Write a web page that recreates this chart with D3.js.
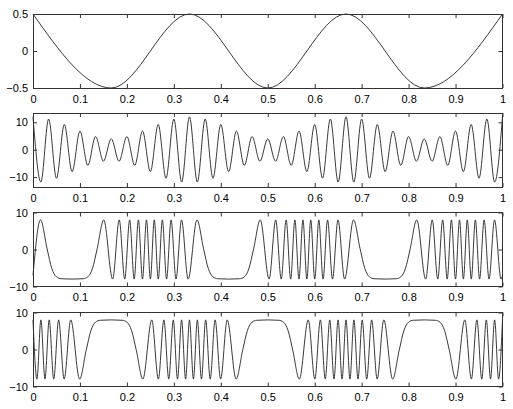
<!DOCTYPE html>
<html lang="en">
<head>
<meta charset="UTF-8">
<title>modulation</title>
<script src="https://d3js.org/d3.v7.min.js"></script>
<style>
    body { margin: 0; background: #fff; }
    svg text {
        font-family: Helvetica, "Liberation Sans", Arial, sans-serif;
        font-size: 11px;
        fill: #000;
    }
</style>
</head>
<body>
<script>

// shared x ticks
let xTicks = [0, 0.1, 0.2, 0.3, 0.4, 0.5, 0.6, 0.7, 0.8, 0.9, 1];

// panel 1 - message (extrema)
let msgT = [0, 0.1667, 0.3333, 0.5, 0.6667, 0.8333, 1];
let msgY = [0.5, -0.5, 0.5, -0.5, 0.5, -0.5, 0.5];
let msgTicks = [-0.5, 0, 0.5];

// panel 2 - carrier with varying amplitude (peaks / troughs)
let amT = [0, 0.0167, 0.0333, 0.05, 0.0667, 0.0833, 0.1, 0.1167, 0.1333, 0.15,
    0.1667, 0.1833, 0.2, 0.2167, 0.2333, 0.25, 0.2667, 0.2833, 0.3, 0.3167,
    0.3333, 0.35, 0.3667, 0.3833, 0.4, 0.4167, 0.4333, 0.45, 0.4667, 0.4833,
    0.5, 0.5167, 0.5333, 0.55, 0.5667, 0.5833, 0.6, 0.6167, 0.6333, 0.65,
    0.6667, 0.6833, 0.7, 0.7167, 0.7333, 0.75, 0.7667, 0.7833, 0.8, 0.8167,
    0.8333, 0.85, 0.8667, 0.8833, 0.9, 0.9167, 0.9333, 0.95, 0.9667, 0.9833, 1];
let amY = [12, -11.8, 11.2, -10.4, 9.2, -8, 6.8, -5.7, 4.8, -4.2,
    4, -4.2, 4.8, -5.7, 6.8, -8, 9.2, -10.4, 11.2, -11.8,
    12, -11.8, 11.2, -10.4, 9.2, -8, 6.8, -5.7, 4.8, -4.2,
    4, -4.2, 4.8, -5.7, 6.8, -8, 9.2, -10.4, 11.2, -11.8,
    12, -11.8, 11.2, -10.4, 9.2, -8, 6.8, -5.7, 4.8, -4.2,
    4, -4.2, 4.8, -5.7, 6.8, -8, 9.2, -10.4, 11.2, -11.8, 12];
let amTicks = [-10, 0, 10];

// panel 3 - phase modulated
let pmT = [0, 0.016, 0.03, 0.04, 0.05, 0.06, 0.0833, 0.1067, 0.1167, 0.1267, 0.1367,
    0.1507, 0.1696, 0.1837, 0.1954, 0.2059, 0.2155, 0.2245, 0.2332, 0.2417, 0.25,
    0.2583, 0.2668, 0.2755, 0.2845, 0.2941, 0.3046, 0.3163, 0.3304,
    0.3493, 0.3633, 0.3733, 0.3833, 0.3933, 0.4167, 0.44, 0.45, 0.46, 0.47,
    0.484, 0.5029, 0.517, 0.5287, 0.5392, 0.5488, 0.5578, 0.5665, 0.575, 0.5833,
    0.5916, 0.6001, 0.6088, 0.6178, 0.6274, 0.6379, 0.6496, 0.6637,
    0.6827, 0.6967, 0.7067, 0.7167, 0.7267, 0.75, 0.7734, 0.7834, 0.7934, 0.8034,
    0.8174, 0.8363, 0.8504, 0.8621, 0.8726, 0.8822, 0.8912, 0.8999, 0.9084, 0.9167,
    0.925, 0.9335, 0.9422, 0.9512, 0.9608, 0.9713, 0.983, 0.997, 1];
let pmY = [-7, 8, 0.2, -5.1, -7.4, -7.9, -8, -7.9, -7.4, -5.1, 0.2,
    8, -8, 8, -8, 8, -8, 8, -8, 8, -8,
    8, -8, 8, -8, 8, -8, 8, -8,
    8, 0.2, -5.1, -7.4, -7.9, -8, -7.9, -7.4, -5.1, 0.2,
    8, -8, 8, -8, 8, -8, 8, -8, 8, -8,
    8, -8, 8, -8, 8, -8, 8, -8,
    8, 0.2, -5.1, -7.4, -7.9, -8, -7.9, -7.4, -5.1, 0.2,
    8, -8, 8, -8, 8, -8, 8, -8, 8, -8,
    8, -8, 8, -8, 8, -8, 8, -8, -7];

// panel 4 - frequency modulated
let fmT = [0, 0.0084, 0.0168, 0.0255, 0.0345, 0.0441, 0.0546, 0.0663, 0.0804, 0.0993,
    0.1133, 0.1233, 0.1333, 0.1433, 0.1667, 0.19, 0.2, 0.21, 0.22,
    0.234, 0.253, 0.267, 0.2788, 0.2892, 0.2988, 0.3078, 0.3165, 0.325,
    0.3333, 0.3417, 0.3501, 0.3588, 0.3678, 0.3774, 0.3879, 0.3996, 0.4137, 0.4326,
    0.4466, 0.4566, 0.4666, 0.4766, 0.5, 0.5233, 0.5333, 0.5433, 0.5533,
    0.5673, 0.5863, 0.6003, 0.6121, 0.6225, 0.6321, 0.6411, 0.6498, 0.6583,
    0.6667, 0.6751, 0.6835, 0.6922, 0.7012, 0.7108, 0.7213, 0.733, 0.7471, 0.766,
    0.78, 0.79, 0.8, 0.81, 0.8333, 0.8567, 0.8667, 0.8767, 0.8867,
    0.9007, 0.9197, 0.9337, 0.9455, 0.9559, 0.9655, 0.9745, 0.9832, 0.9917, 1];
let fmY = [8, -8, 8, -8, 8, -8, 8, -8, 8, -8,
    -0.2, 5.1, 7.4, 7.9, 8, 7.9, 7.4, 5.1, -0.2,
    -8, 8, -8, 8, -8, 8, -8, 8, -8,
    8, -8, 8, -8, 8, -8, 8, -8, 8, -8,
    -0.2, 5.1, 7.4, 7.9, 8, 7.9, 7.4, 5.1, -0.2,
    -8, 8, -8, 8, -8, 8, -8, 8, -8,
    8, -8, 8, -8, 8, -8, 8, -8, 8, -8,
    -0.2, 5.1, 7.4, 7.9, 8, 7.9, 7.4, 5.1, -0.2,
    -8, 8, -8, 8, -8, 8, -8, 8, -8, 8];
let sigTicks = [-10, 0, 10];

let width = 513;
let height = 409;
let left = 33;
let right = 502.5;
let panelHeight = 74;
let axisColor = "#333";
let lineColor = "#222";

let panels = [
    {t: msgT, y: msgY, top: 14, domain: [-0.5, 0.5], ticks: msgTicks},
    {t: amT, y: amY, top: 113, domain: [-13.6, 13.4], ticks: amTicks},
    {t: pmT, y: pmY, top: 212.5, domain: [-10, 10], ticks: sigTicks},
    {t: fmT, y: fmY, top: 312.5, domain: [-10, 10], ticks: sigTicks}
];

let svg = d3.select("body").append("svg")
    .attr("width", width)
    .attr("height", height);

svg.append("rect")
    .attr("width", "100%")
    .attr("height", "100%")
    .attr("fill", "#fff");

let x = d3.scaleLinear().domain([0, 1]).range([left, right]);
let fmt = d3.format("~g");

panels.forEach(function (p) {
    let y = d3.scaleLinear().domain(p.domain).range([p.top + panelHeight, p.top]);
    let g = svg.append("g");

    // the signal
    let line = d3.line()
        .x(d => x(d[0]))
        .y(d => y(d[1]))
        .curve(d3.curveMonotoneX);

    g.append("path")
        .datum(d3.zip(p.t, p.y))
        .attr("fill", "none")
        .attr("stroke", lineColor)
        .attr("stroke-width", 0.9)
        .attr("d", line);

    // inward ticks on all four sides, labels left and bottom only
    let bottom = g.append("g")
        .attr("transform", "translate(0," + (p.top + panelHeight) + ")")
        .call(d3.axisBottom(x).tickValues(xTicks).tickSize(-4).tickPadding(7).tickFormat(fmt));
    let top = g.append("g")
        .attr("transform", "translate(0," + p.top + ")")
        .call(d3.axisTop(x).tickValues(xTicks).tickSize(-4).tickFormat(""));
    let leftAx = g.append("g")
        .attr("transform", "translate(" + left + ",0)")
        .call(d3.axisLeft(y).tickValues(p.ticks).tickSize(-4).tickPadding(5).tickFormat(fmt));
    let rightAx = g.append("g")
        .attr("transform", "translate(" + right + ",0)")
        .call(d3.axisRight(y).tickValues(p.ticks).tickSize(-4).tickFormat(""));

    [bottom, top, leftAx, rightAx].forEach(function (a) {
        a.select(".domain").remove();
        a.selectAll("line").attr("stroke", axisColor);
        a.selectAll("text")
            .attr("fill", "#000")
            .style("font-size", "11px")
            .style("font-family", "Helvetica, 'Liberation Sans', Arial, sans-serif");
    });

    g.append("rect")
        .attr("x", left)
        .attr("y", p.top)
        .attr("width", right - left)
        .attr("height", panelHeight)
        .attr("fill", "none")
        .attr("stroke", axisColor)
        .attr("stroke-width", 1)
        .attr("shape-rendering", "crispEdges");
});

</script>
</body>
</html>
